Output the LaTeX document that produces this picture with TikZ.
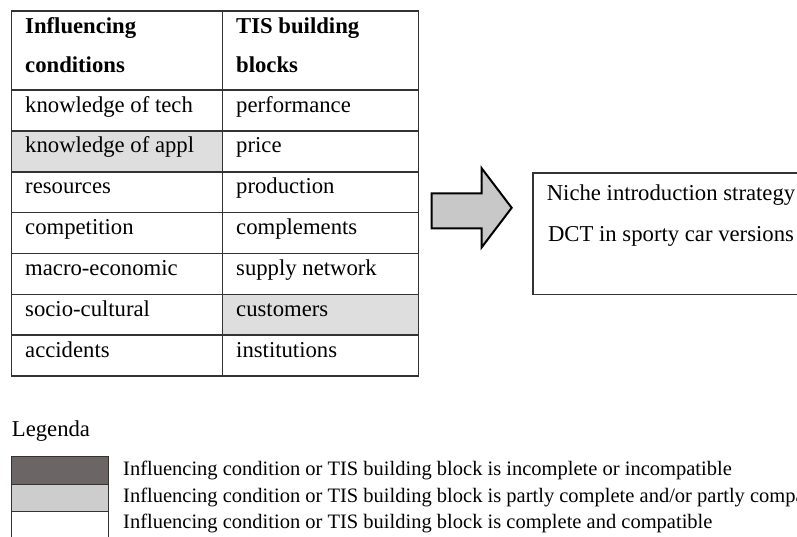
\documentclass[tikz,border=0pt]{standalone}
\usepackage{fontspec}
\setmainfont{Liberation Serif}
\definecolor{partgray}{HTML}{DEDEDE}
\definecolor{arrowgray}{HTML}{C8C8C8}
\definecolor{darkgray}{HTML}{6B6566}
\definecolor{lightgray}{HTML}{CDCDCD}
\begin{document}
\begin{tikzpicture}[x=1pt,y=-1pt,
    celltext/.style={anchor=base west, inner sep=0pt, font=\fontsize{22.7}{39}\selectfont},
    legtext/.style={anchor=base west, inner sep=0pt, font=\fontsize{20.5}{24}\selectfont},
    tabline/.style={line width=1.3pt, black!80}]
    \useasboundingbox (0,0) rectangle (797,536);
    \clip (0,0) rectangle (797,536);

% table
    \fill[partgray] (11.7,131) rectangle (222.7,172);
    \fill[partgray] (222.7,294.3) rectangle (418.3,335);
    \draw[tabline] (11.7,11) rectangle (418.3,376);
    \draw[tabline] (222.7,11) -- (222.7,376);
    \foreach \y in {90,131,172,212.7,253.3,294.3,335}
        \draw[tabline] (11.7,\y) -- (418.3,\y);

    % header cells, anchored on the baseline of their last line
    \node[celltext, align=left] (hleft) at (25,72) {\bfseries Influencing\\\bfseries conditions};
    \node[celltext, align=left] (hright) at (236,72) {\bfseries TIS building\\\bfseries blocks};

    \foreach \l/\r [count=\i from 0] in {knowledge of tech/performance, knowledge of appl/price,
        resources/production, competition/complements, macro-economic/supply network,
        socio-cultural/customers, accidents/institutions}
    {
        \node[celltext] (left\i) at (25,{112+40.86*\i}) {\l};
        \node[celltext] (right\i) at (236,{112+40.86*\i}) {\r};
    }

% arrow and strategy box
    \draw[line width=2pt, fill=arrowgray, line join=miter] (431.7,193.3) -- (481.7,193.3) -- (481.7,168.3)
        -- (511.7,207.8) -- (481.7,247.3) -- (481.7,228.3) -- (431.7,228.3) -- cycle;

    \draw[line width=1.2pt, black!80] (533,173) rectangle (807,294.3);
    \node[celltext, anchor=base] (niche) at (671,200) {Niche introduction strategy};
    \node[celltext, anchor=base] (dct) at (671,241) {DCT in sporty car versions};

% legend
    \node[celltext] (legenda) at (11.7,436.7) {Legenda};
    \draw[line width=1pt, black!80, fill=darkgray] (11.7,456.7) rectangle (108.3,484.3);
    \draw[line width=1pt, black!80, fill=lightgray] (11.7,484.3) rectangle (108.3,511.7);
    \draw[line width=1pt, black!80] (11.7,511.7) rectangle (108.3,540);
    \node[legtext] (leg1) at (123,475) {Influencing condition or TIS building block is incomplete or incompatible};
    \node[legtext] (leg2) at (123,502) {Influencing condition or TIS building block is partly complete and/or partly compatible};
    \node[legtext] (leg3) at (123,528) {Influencing condition or TIS building block is complete and compatible};

\end{tikzpicture}
\end{document}
